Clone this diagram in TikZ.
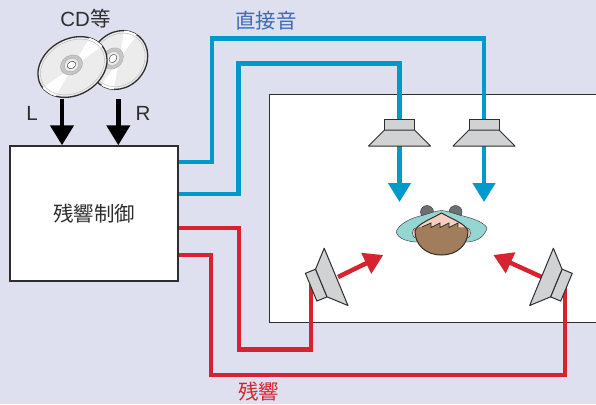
\documentclass[tikz,border=0pt]{standalone}
\usepackage{fontspec}
\setmainfont{Liberation Sans}
\newfontfamily\jp{Noto Sans CJK JP}
\usepackage{tikz}
\usetikzlibrary{positioning, arrows.meta, calc}

\definecolor{bgblue}{HTML}{DEDFEF}
\definecolor{directblue}{HTML}{0099CC}
\definecolor{reverbred}{HTML}{D7232F}
\definecolor{labelblue}{HTML}{3C6CB4}
\definecolor{spkgray}{HTML}{D1D2D4}
\definecolor{inkgray}{HTML}{2E2E2E}
\definecolor{shirt}{HTML}{95D6D3}
\definecolor{hair}{HTML}{A27D5B}
\definecolor{skin}{HTML}{F7CFC0}
\definecolor{bun}{HTML}{6E6F71}

\tikzset{
  wire/.style={line width=4.5pt},
  direct/.style={wire, directblue},
  reverb/.style={wire, reverbred},
  sound/.style={-{Triangle[length=19pt,width=22pt]}},
  input/.style={line width=4.5pt, black, -{Triangle[length=20pt,width=23pt]}},
  lbl/.style={inner sep=0pt, text=inkgray, font=\fontsize{20.5}{24}\selectfont},
}

\begin{document}
\begin{tikzpicture}[x=1pt, y=-1pt]
    \useasboundingbox (0,0) rectangle (596,404);
    \clip (0,0) rectangle (596,404);
    \fill[bgblue] (0,0) rectangle (596,404);

    % listening room
    \draw[inkgray, line width=1.5pt, fill=white] (269.5,94.5) rectangle (610,322.5);

    % reverb controller
    \node[draw=inkgray, line width=1.5pt, fill=white, minimum width=168pt, minimum height=135pt,
          inner sep=0pt, text=inkgray, font=\jp\fontsize{20.5}{24}\selectfont] (ctrl) at (94,213.5) {残響制御};

    % two discs, the right one behind
    \foreach \cx/\cy/\ang/\ra/\rb/\hx/\hy in {119/60/50/31pt/27pt/113/58.5, 72.5/67/30/36.5pt/28pt/71.5/65} {
      \begin{scope}[shift={(\cx,\cy)}, rotate=\ang]
        \draw[inkgray, line width=1.3pt, fill=gray!15] (0,0) ellipse [x radius=\ra, y radius=\rb];
        \begin{scope}
          \clip (0,0) ellipse [x radius=\ra, y radius=\rb];
          \fill[white] (0,0) -- (5:40pt) -- (30:40pt) -- cycle;
          \fill[white] (0,0) -- (185:40pt) -- (210:40pt) -- cycle;
        \end{scope}
        \draw[gray!60, thin] (0,0) ellipse [x radius=\ra-2.5pt, y radius=\rb-2.5pt];
      \end{scope}
      \begin{scope}[shift={(\hx,\hy)}, rotate=\ang]
        \draw[gray!70, fill=gray!45] (0,0) ellipse [x radius=11.5pt, y radius=9.5pt];
        \draw[gray!70, fill=gray!15] (0,0) ellipse [x radius=7.5pt, y radius=6.5pt];
        \draw[inkgray, fill=white] (0,0) ellipse [x radius=4.5pt, y radius=3.5pt];
      \end{scope}
    }
    \node[lbl, anchor=base] (labCD) at (85.5,26.5) {CD{\jp 等}};

    % L/R inputs
    \coordinate (inL) at (62,99);
    \coordinate (inR) at (118.3,99);
    \draw[input] (inL) -- (inL |- ctrl.north);
    \draw[input] (inR) -- (inR |- ctrl.north);
    \node[lbl, anchor=base] (labL) at (32,120) {L};
    \node[lbl, anchor=base] (labR) at (143,120) {R};

    % direct sound
    \coordinate (tipA) at (399.5,202);
    \coordinate (tipB) at (484,202);
    \draw[direct, sound] (ctrl.east |- 0,162) -| (212,38.5) -| (tipB);
    \draw[direct, sound] (ctrl.east |- 0,194) -| (238.5,63.5) -| (tipA);
    \node[lbl, text=labelblue, font=\jp\fontsize{20.5}{24}\selectfont] (labDirect) at (266,20.5) {直接音};

    % reverberation
    \coordinate (backL) at (311,284);
    \coordinate (backR) at (565,284);
    \draw[reverb] (ctrl.east |- 0,228) -| (239,349.5) -| (backL);
    \draw[reverb] (ctrl.east |- 0,255) -| (211,375) -| (backR);
    \coordinate (fromL) at (338,277);
    \coordinate (toL) at (383.3,255);
    \coordinate (fromR) at (541.7,277);
    \coordinate (toR) at (493.3,255);
    \draw[reverb, sound] (fromL) -- (toL);
    \draw[reverb, sound] (fromR) -- (toR);
    \node[lbl, text=reverbred, font=\jp\fontsize{20.5}{24}\selectfont] (labReverb) at (258.5,392) {残響};

    % speakers
    \foreach \sx/\sy/\ang in {399.5/130/0, 484/130/0, 321.3/283/112.5, 556.3/283/-112.5} {
      \begin{scope}[shift={(\sx,\sy)}, rotate=\ang]
        \draw[inkgray, line width=1pt, fill=spkgray] (-15,-11) rectangle (15,0);
        \draw[inkgray, line width=1pt, fill=spkgray, line join=round] (-15,0) -- (15,0) -- (31,16) -- (-31,16) -- cycle;
      \end{scope}
    }

    % listener seen from above
    \draw[inkgray, fill=bun] (427,212) circle (6.5pt);
    \draw[inkgray, fill=bun] (455.5,212) circle (6.5pt);
    \draw[inkgray, fill=shirt] (396,232) .. controls (399,224) and (410,218) .. (424,215)
      .. controls (430,213) and (436,211) .. (441.5,210.5) .. controls (447,211) and (453,213) .. (459,215)
      .. controls (472,218) and (484,222) .. (487,228)
      .. controls (485,236) and (478,241) .. (468,242) -- (415,242)
      .. controls (405,241) and (398,238) .. (396,232) -- cycle;
    \draw[inkgray, fill=skin] (415.5,233) ellipse [x radius=3pt, y radius=5pt];
    \draw[inkgray, fill=skin] (467.5,233) ellipse [x radius=3pt, y radius=5pt];
    \path[fill=skin] (415,231) .. controls (417,224) and (431,219) .. (441.5,213)
      .. controls (452,219) and (466,224) .. (468,231)
      .. controls (468,245) and (457,255) .. (441.5,255)
      .. controls (426,255) and (415,245) .. (415,231) -- cycle;
    \begin{scope}
      \clip (415,231) .. controls (417,224) and (431,219) .. (441.5,213)
        .. controls (452,219) and (466,224) .. (468,231)
        .. controls (468,245) and (457,255) .. (441.5,255)
        .. controls (426,255) and (415,245) .. (415,231) -- cycle;
      \fill[hair] (410,262) -- (410,228) -- (422,227) -- (431,223) -- (431,227.5) -- (440,223) -- (440,227.5)
        -- (449,223) -- (449,227.5) -- (458,223) -- (458,227.5) -- (474,227) -- (474,262) -- cycle;
      \draw[inkgray, line width=0.8pt] (422,227) -- (431,223) -- (431,227.5) -- (440,223) -- (440,227.5)
        -- (449,223) -- (449,227.5) -- (458,223) -- (458,227.5);
    \end{scope}
    \draw[inkgray, line width=1pt] (415,231) .. controls (417,224) and (431,219) .. (441.5,213)
      .. controls (452,219) and (466,224) .. (468,231)
      .. controls (468,245) and (457,255) .. (441.5,255)
      .. controls (426,255) and (415,245) .. (415,231) -- cycle;

\end{tikzpicture}
\end{document}
